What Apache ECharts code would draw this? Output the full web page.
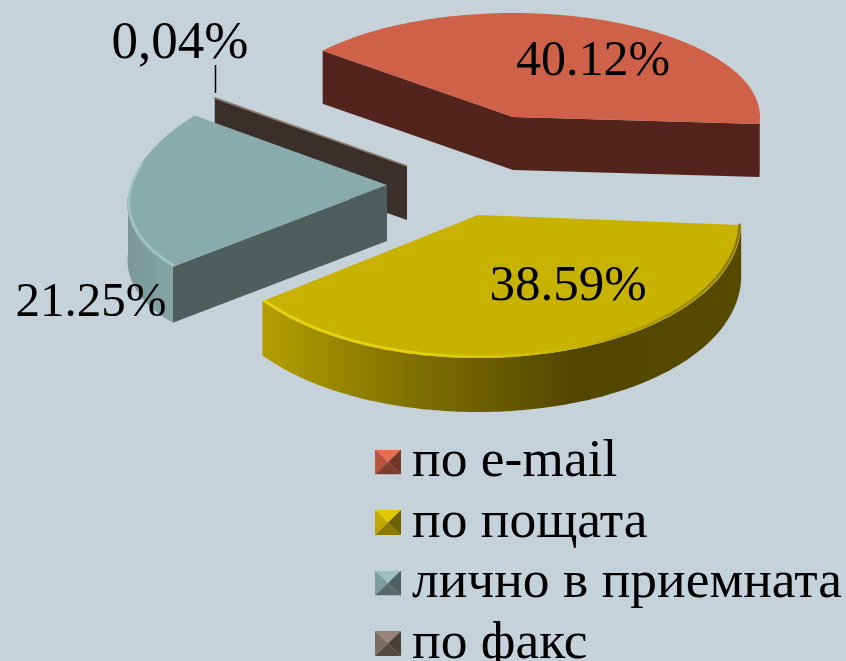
<!DOCTYPE html>
<html>
<head>
<meta charset="utf-8">
<title>3D pie</title>
<script src="https://cdn.jsdelivr.net/npm/echarts@6/dist/echarts.min.js"></script>
<style>
html, body { margin: 0; padding: 0; background: #c6d2d9; }
#chart { width: 846px; height: 661px; }
</style>
</head>
<body>
<div id="chart"></div>
<script>
// data
var categories = ['по e-mail', 'по пощата', 'лично в приемната', 'по факс'];
var values = [40.12, 38.59, 21.25, 0.04];
var valueLabels = ['40.12%', '38.59%', '21.25%', '0,04%'];

// styling + where each exploded wedge sits on the page
var FONT = '"Liberation Serif", serif';
var START_ANGLE = 140.4;
var layout = [
	{ ax: 513, ay: 117, rx: 247, q: 0, ryB: 104, ryF: 100, skew: 0, depth: 53, z: 2, labelX: 593, labelY: 62, fontSize: 50 },
	{ ax: 478, ay: 215, rx: 263, q: 0.045, ryB: 140, ryF: 143, skew: 0, depth: 54, z: 4, labelX: 568, labelY: 287, fontSize: 51 },
	{ ax: 387, ay: 185, rx: 259, q: 0.06, ryB: 124, ryF: 120, skew: 12, depth: 56, z: 3, labelX: 91, labelY: 303, fontSize: 49 },
	{ ax: 407, ay: 166, rx: 249, q: 0, ryB: 107, ryF: 107, skew: 0, depth: 54, z: 1, labelX: 180, labelY: 44, fontSize: 53 }
];
var colors = [
	{ top: '#cf6148', cut: '#52241c', wall: ['#52241c', '#52241c'], rim: ['#b9573f', '#b9573f'],
		icon: ['#e86c50', '#b8553e', '#713729', '#7e3c2c'] },
	{ top: '#c8b200', cut: '#524600', wall: ['#b39e00', '#7c6d00', '#514500', '#574b00'], rim: ['#f0dc10', '#ecd80c', '#c8b200', '#7c6d00'],
		icon: ['#e0c800', '#c0a800', '#6e6100', '#8a7a00'] },
	{ top: '#89abab', cut: '#4e5e5d', wall: ['#7a9696', '#87a5a5'], rim: ['#a4c8c8', '#a4c8c8'],
		icon: ['#9fc0c0', '#7c9c9c', '#4e6060', '#566a6a'] },
	{ top: '#8d7a6e', cut: '#3a2f2b', wall: ['#3a2f2b', '#3a2f2b'], rim: ['#8d7a6e', '#8d7a6e'],
		icon: ['#968478', '#7c6c60', '#4a4038', '#554a42'] }
];

function sliceAngles(i) {
	var a = START_ANGLE;
	for (var k = 0; k < i; k++) {
		a -= values[k] * 3.6;
	}
	return [a, a - values[i] * 3.6];
}

function project(l, deg) {
	var t = deg * Math.PI / 180;
	var u = Math.cos(t), v = Math.sin(t);
	return [
		l.ax + l.rx * u * (1 - l.q * v),
		l.ay - v * (v > 0 ? l.ryB : l.ryF) - u * l.skew
	];
}

function arcPoints(l, from, to) {
	var n = Math.max(2, Math.ceil(Math.abs(from - to)));
	var pts = [];
	for (var k = 0; k <= n; k++) {
		pts.push(project(l, from + (to - from) * k / n));
	}
	return pts;
}

function gradient(list) {
	var stops = list.map(function (c, k) {
		return { offset: k / (list.length - 1), color: c };
	});
	return new echarts.graphic.LinearGradient(0, 0, 1, 0, stops);
}

function renderSlice(i) {
	return function (params, api) {
		var l = layout[i], c = colors[i];
		var ang = sliceAngles(i);
		var start = ang[0], end = ang[1];
		var apex = [l.ax, l.ay];
		var children = [];

		function cutFace(deg) {
			var p = project(l, deg);
			children.push({
				type: 'polygon',
				shape: { points: [apex, p, [p[0], p[1] + l.depth], [apex[0], apex[1] + l.depth]] },
				style: { fill: c.cut }
			});
		}
		// the straight cut walls that face the viewer
		if (Math.cos(start * Math.PI / 180) < 0) cutFace(start);
		if (Math.cos(end * Math.PI / 180) > 0) cutFace(end);

		// outer wall, only the part of the rim below the horizontal axis
		var wallFrom = Math.min(start, 0), wallTo = Math.max(end, -180);
		if (wallFrom > wallTo) {
			var rim = arcPoints(l, wallFrom, wallTo);
			var low = rim.map(function (p) { return [p[0], p[1] + l.depth]; }).reverse();
			children.push({
				type: 'polygon',
				shape: { points: rim.concat(low) },
				style: { fill: gradient(c.wall) }
			});
		}

		// top face
		var arc = arcPoints(l, start, end);
		children.push({
			type: 'polygon',
			shape: { points: [apex].concat(arc) },
			style: { fill: c.top, stroke: i === 3 ? c.top : null, lineWidth: 1.5 }
		});

		// bevel along the front of the top face
		if (wallFrom > wallTo && i !== 0) {
			var inner = arcPoints({ ax: l.ax, ay: l.ay - 1.5, rx: l.rx - 1.5, q: l.q, ryB: l.ryB, ryF: l.ryF, skew: l.skew }, wallFrom, i === 2 ? wallTo - 15 : wallTo);
			children.push({
				type: 'polyline',
				shape: { points: inner },
				style: { fill: null, stroke: gradient(c.rim), lineWidth: 2.5, opacity: 0.85 }
			});
		}

		// leader line for the tiny slice
		if (i === 3) {
			children.push({
				type: 'line',
				shape: { x1: 215.5, y1: 65, x2: 215.5, y2: 93 },
				style: { stroke: '#000', lineWidth: 1.5 }
			});
		}

		children.push({
			type: 'text',
			style: {
				x: l.labelX, y: l.labelY, text: valueLabels[i],
				font: l.fontSize + 'px ' + FONT, fill: '#000', align: 'center', verticalAlign: 'middle'
			}
		});
		return { type: 'group', children: children };
	};
}

function iconFor(c) {
	var w = 26, h = 25, cx = 13, cy = 12.5;
	var tri = function (pts, col) {
		return '<polygon points="' + pts + '" fill="' + col + '"/>';
	};
	var svg = '<svg xmlns="http://www.w3.org/2000/svg" width="32" height="25" viewBox="0 0 32 25">' +
		tri('0,0 ' + w + ',0 ' + cx + ',' + cy, c.icon[0]) +
		tri('0,0 0,' + h + ' ' + cx + ',' + cy, c.icon[1]) +
		tri(w + ',0 ' + w + ',' + h + ' ' + cx + ',' + cy, c.icon[2]) +
		tri('0,' + h + ' ' + w + ',' + h + ' ' + cx + ',' + cy, c.icon[3]) +
		'</svg>';
	return 'image://data:image/svg+xml;charset=utf-8,' + encodeURIComponent(svg);
}

var seriesList = [];
var legendData = [];
for (var i = 0; i < categories.length; i++) {
	seriesList.push({
		type: 'custom',
		name: categories[i],
		coordinateSystem: 'none',
		silent: true,
		z: layout[i].z,
		renderItem: renderSlice(i),
		itemStyle: { color: colors[i].top },
		data: [values[i]]
	});
	legendData.push({ name: categories[i], icon: iconFor(colors[i]) });
}

var myChart = echarts.init(document.getElementById('chart'));
myChart.setOption({
	backgroundColor: '#c6d2d9',
	animation: false,
	legend: {
		orient: 'vertical',
		left: 375,
		top: 435,
		height: 300,
		padding: 0,
		itemWidth: 32,
		itemHeight: 25,
		itemGap: 6.5,
		selectedMode: false,
		data: legendData,
		textStyle: { fontFamily: FONT, fontSize: 53.5, lineHeight: 50, color: '#000', padding: 0 }
	},
	series: seriesList
});
</script>
</body>
</html>
